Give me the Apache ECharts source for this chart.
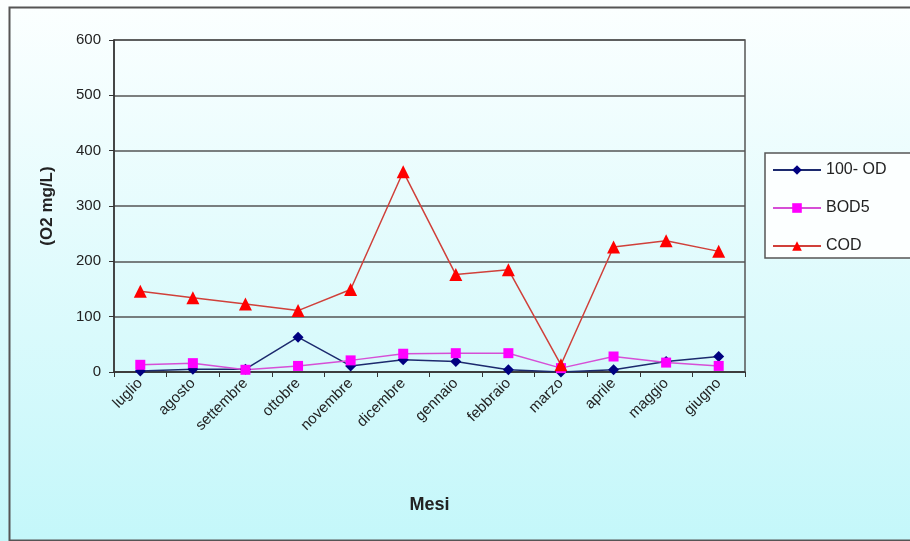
<!DOCTYPE html>
<html>
<head>
<meta charset="utf-8">
<script src="https://cdn.jsdelivr.net/npm/echarts@6/dist/echarts.min.js"></script>
<style>html,body{margin:0;padding:0;background:#fff}#c{width:910px;height:541px}</style>
</head>
<body>
<div id="c"></div>
<script>
const categories = ['luglio','agosto','settembre','ottobre','novembre','dicembre','gennaio','febbraio','marzo','aprile','maggio','giugno'];
const od100 = [2, 5, 5, 63, 11, 22, 19, 4, 0, 4, 19, 28];
const bod5 = [13, 16, 4, 11, 21, 33, 34, 34, 7, 28, 17, 11];
const cod = [146, 134, 123, 111, 149, 362, 176, 185, 13, 226, 237, 218];
const yTicks = [0, 100, 200, 300, 400, 500, 600];

const chart = echarts.init(document.getElementById('c'), null, {renderer: 'canvas'});
const font = 'Liberation Sans, Arial, sans-serif';
chart.setOption({
  animation: false,
  backgroundColor: new echarts.graphic.LinearGradient(0, 0, 0, 1, [
    {offset: 0, color: '#fcffff'},
    {offset: 1, color: '#c4f7fa'}
  ]),
  graphic: [
    {type: 'rect', left: 7, top: 5, shape: {width: 930, height: 533}, style: {fill: 'none', stroke: '#555', lineWidth: 2}, z: -1}
  ],
  grid: {left: 114, right: 165, top: 40, bottom: 169, show: true, borderColor: '#555', borderWidth: 1.5, backgroundColor: 'transparent'},
  legend: {
    orient: 'vertical', left: 765, top: 153,
    padding: [9, 30, 4, 7],
    itemWidth: 48, itemHeight: 12, itemGap: 22,
    backgroundColor: '#fcffff', borderColor: '#555', borderWidth: 1.5,
    textStyle: {fontFamily: font, fontSize: 16, color: '#222'},
    data: ['100- OD', 'BOD5', 'COD']
  },
  xAxis: {
    type: 'category', data: categories, boundaryGap: true,
    name: 'Mesi', nameLocation: 'middle', nameGap: 124,
    nameTextStyle: {fontFamily: font, fontSize: 18, fontWeight: 'bold', color: '#222'},
    axisLine: {lineStyle: {color: '#333', width: 1.5}},
    axisTick: {show: true, alignWithLabel: false, length: 5, lineStyle: {color: '#333'}},
    axisLabel: {rotate: 45, fontFamily: font, fontSize: 15, color: '#222', margin: 9}
  },
  yAxis: {
    type: 'value', min: 0, max: 600, interval: 100,
    name: '(O2 mg/L)', nameLocation: 'middle', nameGap: 58, nameRotate: 90,
    nameTextStyle: {fontFamily: font, fontSize: 17, fontWeight: 'bold', color: '#222'},
    axisLine: {show: true, lineStyle: {color: '#333', width: 1.5}},
    axisTick: {show: true, length: 5, lineStyle: {color: '#333'}},
    axisLabel: {fontFamily: font, fontSize: 15, color: '#222', margin: 13,
      formatter: v => yTicks.includes(v) ? String(v) : ''},
    splitLine: {lineStyle: {color: '#555', width: 1.5}}
  },
  series: [
    {name: '100- OD', type: 'line', data: od100, symbol: 'diamond', symbolSize: 11,
     itemStyle: {color: '#000080'}, lineStyle: {color: '#1c2a6e', width: 1.5}},
    {name: 'BOD5', type: 'line', data: bod5, symbol: 'rect', symbolSize: 10,
     itemStyle: {color: '#ff00ff'}, lineStyle: {color: '#d64fd6', width: 1.5}},
    {name: 'COD', type: 'line', data: cod, symbol: 'triangle', symbolSize: 13,
     itemStyle: {color: '#ff0000'}, lineStyle: {color: '#d0403a', width: 1.5}}
  ]
});
</script>
</body>
</html>
